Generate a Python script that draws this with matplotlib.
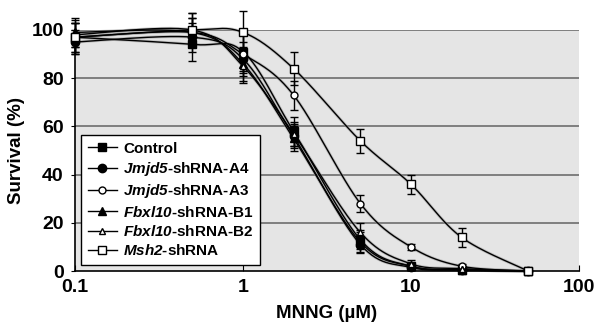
import numpy as np
import matplotlib
matplotlib.use("Agg")
import matplotlib.pyplot as plt

plt.rcParams['font.family'] = ['Liberation Sans', 'DejaVu Sans']
plt.rcParams['mathtext.fontset'] = 'custom'
plt.rcParams['mathtext.it'] = 'Liberation Sans:italic:bold'
plt.rcParams['mathtext.rm'] = 'Liberation Sans:italic:bold'

# dose (uM) and survival (%)
dose = [0.1, 0.5, 1, 2, 5, 10, 20, 50]

control = [97, 94, 91, 58, 13, 2, 0.5, 0]
control_err = [6, 7, 8, 6, 4, 1.5, 0.5, 0.3]
a4 = [95, 97, 88, 56, 11, 1.5, 0.5, 0]
a4_err = [5, 6, 7, 5, 3.5, 1, 0.5, 0.3]
a3 = [97, 99, 90, 73, 28, 10, 2, 0]
a3_err = [6, 6, 8, 6, 3.5, 1.2, 0.8, 0.3]
b1 = [99, 99, 86, 55, 12, 2, 0.5, 0]
b1_err = [6, 6, 7, 5, 4, 1.5, 0.5, 0.3]
b2 = [98, 100, 85, 57, 16, 3, 1, 0]
b2_err = [5, 7, 7, 5, 4, 1.5, 0.5, 0.3]
msh2 = [97, 100, 99, 84, 54, 36, 14, 0]
msh2_err = [7, 7, 9, 7, 5, 4, 4, 0.5]

labels = ['Control', r'$\mathit{Jmjd5}$-shRNA-A4', r'$\mathit{Jmjd5}$-shRNA-A3',
          r'$\mathit{Fbxl10}$-shRNA-B1', r'$\mathit{Fbxl10}$-shRNA-B2', r'$\mathit{Msh2}$-shRNA']
series = [control, a4, a3, b1, b2, msh2]
errors = [control_err, a4_err, a3_err, b1_err, b2_err, msh2_err]
markers = ['s', 'o', 'o', '^', '^', 's']
filled = [True, True, False, True, False, False]
msizes = [6, 6, 5, 6, 5, 6]


def smooth(x, y, n=30):
    # excel-like smoothed line: catmull-rom in pixel-ish space (log x)
    u = np.log10(x) * 168.0
    v = np.asarray(y, float) * 2.41
    pts = np.column_stack([u, v])
    pts = np.vstack([pts[0], pts, pts[-1]])
    out = []
    for i in range(1, len(pts) - 2):
        p0, p1, p2, p3 = pts[i - 1], pts[i], pts[i + 1], pts[i + 2]
        c1 = p1 + (p2 - p0) / 6.0
        c2 = p2 - (p3 - p1) / 6.0
        t = np.linspace(0, 1, n)[:, None]
        b = ((1 - t) ** 3) * p1 + 3 * ((1 - t) ** 2) * t * c1 + 3 * (1 - t) * t ** 2 * c2 + t ** 3 * p2
        out.append(b)
    out = np.vstack(out)
    return 10 ** (out[:, 0] / 168.0), out[:, 1] / 2.41


fig = plt.figure(figsize=(5.95, 3.33), dpi=100)
ax = fig.add_axes([0.126, 0.186, 0.847, 0.724])
ax.set_facecolor('#e5e5e5')
ax.set_xscale('log')
ax.set_xlim(0.1, 100)
ax.set_ylim(0, 100)

for yv in [20, 40, 60, 80, 100]:
    ax.axhline(yv, color='#6e6e6e', lw=1.2, zorder=1)

for s, e, m, f, ms in zip(series, errors, markers, filled, msizes):
    sx, sy = smooth(dose, s)
    ax.plot(sx, sy, color='#9a9a9a', lw=2.2, alpha=0.5, zorder=2, clip_on=False)
    ax.plot(sx, sy, color='black', lw=1.0, zorder=3, clip_on=False)
    ax.errorbar(dose, s, yerr=e, fmt='none', ecolor='black', elinewidth=1.0,
                capsize=3, capthick=1.0, zorder=4, clip_on=False)
    ax.plot(dose, s, ls='none', marker=m, markersize=ms,
            markerfacecolor='black' if f else 'white', markeredgecolor='black',
            markeredgewidth=1.0, zorder=5, clip_on=False)

leg_handles = []
for m, f, ms in zip(markers, filled, msizes):
    lh, = ax.plot([], [], ls='-', lw=1.0, color='black', marker=m, markersize=ms,
                  markerfacecolor='black' if f else 'white', markeredgecolor='black')
    leg_handles.append(lh)

leg = ax.legend(leg_handles, labels, loc='lower left', bbox_to_anchor=(0.012, 0.025),
                frameon=True, fancybox=False, edgecolor='black', framealpha=1,
                prop={'weight': 'bold', 'size': 11}, handlelength=1.9,
                handletextpad=0.4, labelspacing=0.28, borderpad=0.45,
                borderaxespad=0)
leg.get_frame().set_linewidth(1.0)

for sp in ['top', 'right']:
    ax.spines[sp].set_visible(False)
ax.spines['left'].set_linewidth(1.2)
ax.spines['bottom'].set_linewidth(1.2)

ax.set_xticks([0.1, 1, 10, 100])
ax.set_xticklabels(['0.1', '1', '10', '100'])
ax.minorticks_off()
ax.set_yticks([0, 20, 40, 60, 80, 100])
ax.tick_params(axis='x', direction='in', length=4, labelsize=14, pad=6)
ax.tick_params(axis='y', direction='out', length=3, labelsize=14, pad=5)
for t in ax.get_xticklabels() + ax.get_yticklabels():
    t.set_fontweight('bold')

ax.set_ylabel('Survival (%)', fontsize=13.5, fontweight='bold', labelpad=5)
ax.set_xlabel('MNNG (µM)', fontsize=13.5, fontweight='bold', labelpad=6)

fig.savefig('out.png', dpi=100)
